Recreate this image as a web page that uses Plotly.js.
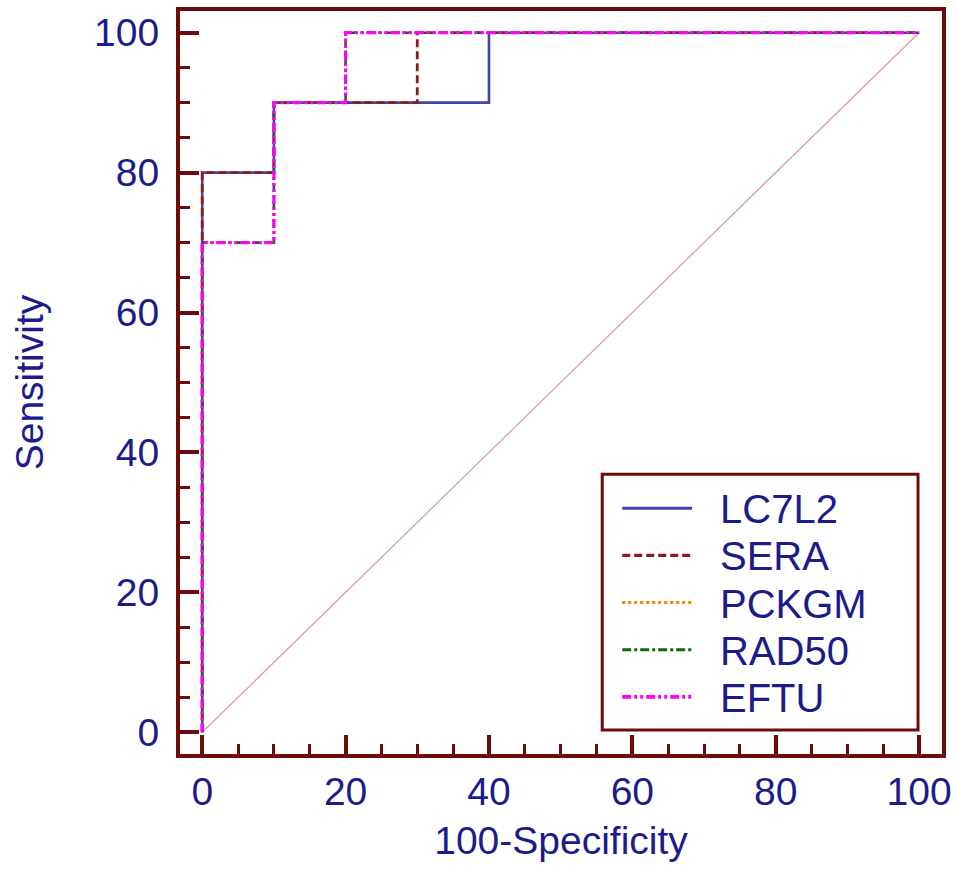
<!DOCTYPE html>
<html>
<head>
<meta charset="utf-8">
<script src="https://cdn.plot.ly/plotly-3.0.1.min.js"></script>
<style>html,body{margin:0;padding:0;background:#fff;}#chart{width:955px;height:871px;}</style>
</head>
<body>
<div id="chart"></div>
<script>
// ROC curve vertices (100-Specificity, Sensitivity)
var seriesNames = ["LC7L2", "SERA", "PCKGM", "RAD50", "EFTU"];
var lc7l2X = [0, 0, 10, 10, 40, 40, 100];
var lc7l2Y = [0, 80, 80, 90, 90, 100, 100];
var seraX = [0, 0, 10, 10, 30, 30, 100];
var seraY = [0, 80, 80, 90, 90, 100, 100];
var pckgmX = [0, 0, 10, 10, 20, 20, 100];
var pckgmY = [0, 70, 70, 90, 90, 100, 100];
var rad50X = [0, 0, 10, 10, 20, 20, 100];
var rad50Y = [0, 70, 70, 90, 90, 100, 100];
var eftuX = [0, 0, 10, 10, 20, 20, 100];
var eftuY = [0, 70, 70, 90, 90, 100, 100];
var refX = [0, 100];
var refY = [0, 100];
var tickValues = [0, 20, 40, 60, 80, 100];
var tickLabels = ["0", "20", "40", "60", "80", "100"];

var maroon = "#6e0a0a";
var navy = "#1b1b8c";
var fontFam = "Liberation Sans, Arial, sans-serif";

var seriesLines = [
  {color: "#4343ad", width: 2.6, dash: "solid"},
  {color: "#8b1c1c", width: 2.8, dash: "8px,4px"},
  {color: "#ff7f00", width: 2.4, dash: "3px,3px"},
  {color: "#0b6b0b", width: 2.6, dash: "9px,3px,3px,3px"},
  {color: "#ff00ff", width: 3.2, dash: "9px,3px,3px,3px,3px,3px"}
];
var seriesX = [lc7l2X, seraX, pckgmX, rad50X, eftuX];
var seriesY = [lc7l2Y, seraY, pckgmY, rad50Y, eftuY];

var traces = [
  {x: refX, y: refY, mode: "lines", showlegend: false, hoverinfo: "skip",
   line: {color: "#d6a29f", width: 1.3}}
];
for (var i = 0; i < seriesNames.length; i++) {
  traces.push({x: seriesX[i], y: seriesY[i], name: seriesNames[i], mode: "lines",
    showlegend: false, line: seriesLines[i]});
}

function axisBase() {
  return {
    tickmode: "array", tickvals: tickValues, ticktext: tickLabels,
    ticks: "inside", ticklen: 19, tickwidth: 4, tickcolor: maroon,
    showline: true, linewidth: 4, linecolor: maroon, mirror: true,
    showgrid: false, zeroline: false,
    tickfont: {family: fontFam, size: 39, color: navy},
    minor: {dtick: 5, tick0: 0, ticks: "inside", ticklen: 10, tickwidth: 3, tickcolor: maroon, showgrid: false}
  };
}
var xa = axisBase();
xa.range = [-3.1, 103.2];
xa.title = {text: "100-Specificity", font: {family: fontFam, size: 39, color: navy}, standoff: 16};
var ya = axisBase();
ya.range = [-3.1, 103.1];
ya.ticklabelstandoff = 9;
ya.title = {text: "Sensitivity", font: {family: fontFam, size: 39, color: navy}, standoff: 39};

// legend box drawn in plot-area pixel positions (layout, not data)
var plotL = 179.5, plotW = 762.5, plotB = 754, plotH = 743.5;
function px(v) { return (v - plotL) / plotW; }
function py(v) { return (plotB - v) / plotH; }

var shapes = [
  {type: "rect", xref: "paper", yref: "paper", x0: px(602), x1: px(918), y0: py(730), y1: py(474),
   line: {color: maroon, width: 3}, fillcolor: "#ffffff", layer: "above"}
];
var annotations = [];
var rowY0 = 508, rowGap = 47.2;
for (var j = 0; j < seriesNames.length; j++) {
  var ry = rowY0 + j * rowGap;
  shapes.push({type: "line", xref: "paper", yref: "paper", x0: px(622), x1: px(692), y0: py(ry), y1: py(ry),
    line: {color: seriesLines[j].color, width: seriesLines[j].width + 0.4, dash: seriesLines[j].dash}, layer: "above"});
  annotations.push({xref: "paper", yref: "paper", x: px(718), y: py(ry + 1), xanchor: "left", yanchor: "middle",
    text: seriesNames[j], showarrow: false, font: {family: fontFam, size: 40, color: navy}});
}

var layout = {
  width: 955, height: 871,
  margin: {l: 179.5, r: 13, t: 10.5, b: 117, pad: 0},
  paper_bgcolor: "#ffffff", plot_bgcolor: "#ffffff",
  xaxis: xa, yaxis: ya,
  showlegend: false,
  shapes: shapes,
  annotations: annotations
};

Plotly.newPlot("chart", traces, layout, {staticPlot: true});
</script>
</body>
</html>
